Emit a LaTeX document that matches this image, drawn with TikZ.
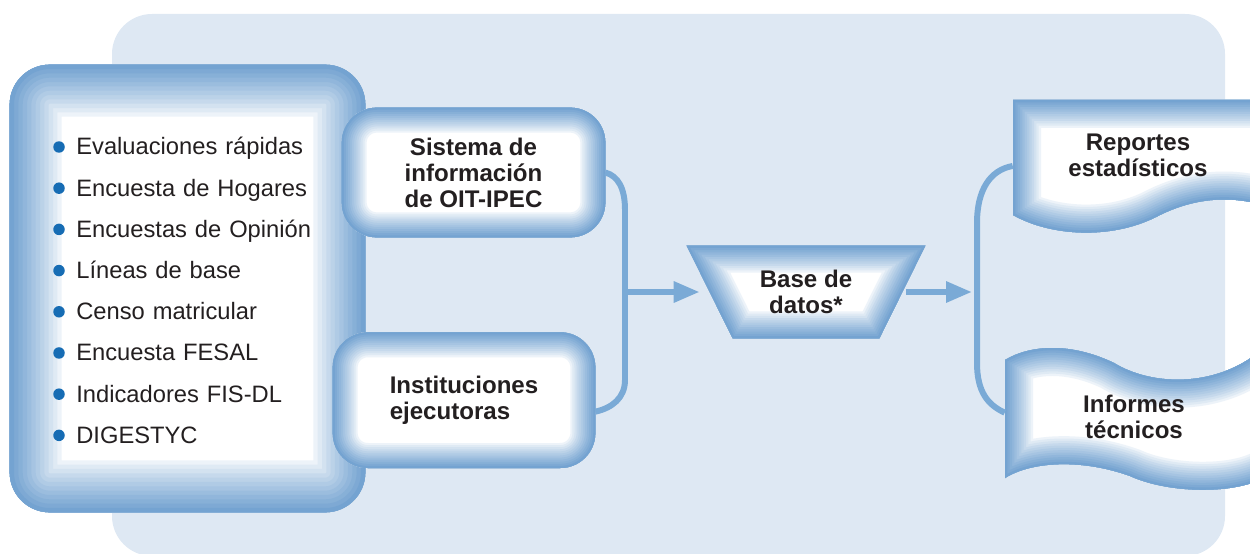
\documentclass[tikz,border=0pt]{standalone}
\usepackage{fontspec}
\setmainfont{Liberation Sans}
\usetikzlibrary{arrows.meta,positioning}

\definecolor{panelblue}{RGB}{222,232,243}
\definecolor{bandblue}{RGB}{116,163,209}
\definecolor{linkblue}{RGB}{122,170,214}
\definecolor{dotblue}{RGB}{22,108,180}
\definecolor{inkgray}{RGB}{35,31,32}

\pgfdeclarelayer{panel}
\pgfdeclarelayer{shade}
\pgfsetlayers{panel,shade,main}

% shaded border: clip to the outline, then stroke it from light to dark
\newcommand{\bandshape}[3][]{%
  \begin{scope}
    \clip[#1] #2;
    \fill[white,#1] #2;
    \foreach \k in {0,...,11}{%
      \pgfmathsetmacro\lw{0.04*#3*(12-\k)/12}%
      \pgfmathtruncatemacro\mx{100*((\k+1)/12)^0.8}%
      \draw[#1,line width=\lw cm,draw=bandblue!\mx!white] #2;
    }
  \end{scope}}

\newcommand{\listfont}{\fontsize{13.5}{16}\selectfont}
\newcommand{\labelfont}{\fontsize{13.7}{14.8}\selectfont\bfseries}

\begin{document}
\begin{tikzpicture}[x=0.02cm,y=-0.02cm,
  box/.style={draw=none, inner sep=0pt, text=inkgray, font=\labelfont, align=center},
  item/.style={anchor=west, text width=5cm, align=left, inner sep=0pt,
    minimum height=0.81cm, text height=0.44cm, text depth=0.12cm,
    text=inkgray, font=\listfont},
  link/.style={draw=linkblue, line width=3.4pt},
  flow/.style={link, -{Triangle[length=5.2mm,width=4mm]}}]

\useasboundingbox (0,0) rectangle (1250,554);

% Define nodes
\node[box, minimum width=7.1cm, minimum height=8.94cm] (src) at (187.5,288.5) {};
\node[item]                      (i1) at (76,147) {Evaluaciones rápidas};
\node[item, below=0pt of i1]     (i2) {Encuesta de Hogares};
\node[item, below=0pt of i2]     (i3) {Encuestas de Opinión};
\node[item, below=0pt of i3]     (i4) {Líneas de base};
\node[item, below=0pt of i4]     (i5) {Censo matricular};
\node[item, below=0pt of i5]     (i6) {Encuesta FESAL};
\node[item, below=0pt of i6]     (i7) {Indicadores FIS-DL};
\node[item, below=0pt of i7]     (i8) {DIGESTYC};

\node[box, minimum width=5.26cm, minimum height=2.58cm] (sis) at (473.5,172.5)
  {Sistema de\\información\\de OIT-IPEC};
\node[box, align=left, minimum width=5.24cm, minimum height=2.7cm,
  below=1.9cm of sis, xshift=-0.19cm] (ins) {Instituciones\\ejecutoras};
\node[box, minimum width=4.76cm, minimum height=1.84cm] (db) at (806,292)
  {Base de\\datos*};
\node[box, minimum width=5cm, minimum height=2.3cm] (rep) at (1138,155)
  {Reportes\\estadísticos};
\node[box, minimum width=5.16cm, minimum height=2.36cm,
  below=2.9cm of rep, xshift=-0.08cm] (inf) {Informes\\técnicos};

\coordinate (j1) at (625,292);
\coordinate (j2) at (977,292);

% Panel and shaded outlines
\begin{pgfonlayer}{panel}
  \fill[panelblue, rounded corners=0.8cm] (112,14) rectangle (1225,556);
\end{pgfonlayer}
\begin{pgfonlayer}{shade}
  \bandshape[rounded corners=0.8cm]{(src.north west) rectangle (src.south east)}{52}
  \bandshape[rounded corners=0.7cm]{(sis.north west) rectangle (sis.south east)}{25}
  \bandshape[rounded corners=0.7cm]{(ins.north west) rectangle (ins.south east)}{25}
  \bandshape{(db.north west) -- (db.north east) -- ([xshift=-0.92cm]db.south east)
    -- ([xshift=0.92cm]db.south west) -- cycle}{27}
  \bandshape{(1013,100) -- (1013,215) .. controls (1050,236) and (1110,240)
    .. (1156,217) .. controls (1200,194) and (1245,194) .. (1290,215) -- (1290,100) -- cycle}{28}
  \bandshape{(1005,360) .. controls (1030,345) and (1070,342) .. (1114,363)
    .. controls (1150,385) and (1210,388) .. (1255,355) -- (1290,340) -- (1290,470)
    -- (1260,480) .. controls (1225,495) and (1165,492) .. (1130,476)
    .. controls (1080,458) and (1030,462) .. (1005,478) -- cycle}{28}
\end{pgfonlayer}

% Bullets
\foreach \n in {1,...,8}
  \fill[dotblue] ([xshift=-0.34cm]i\n.west) circle (0.115cm);

% Connect the nodes
\draw[link] (sis.east) .. controls (618,176) and (625,188) .. (625,210)
  -- (625,380) .. controls (625,398) and (612,408) .. (ins.-5);
\draw[flow, shorten >=-0.26cm] (j1) -- (db);
\draw[flow, shorten <=-0.38cm, shorten >=0.1cm] (db) -- (j2);
\draw[link] (rep.185) .. controls (990,170) and (977,190) .. (977,223)
  -- (977,363) .. controls (977,392) and (988,405) .. (inf.178);

\end{tikzpicture}
\end{document}
